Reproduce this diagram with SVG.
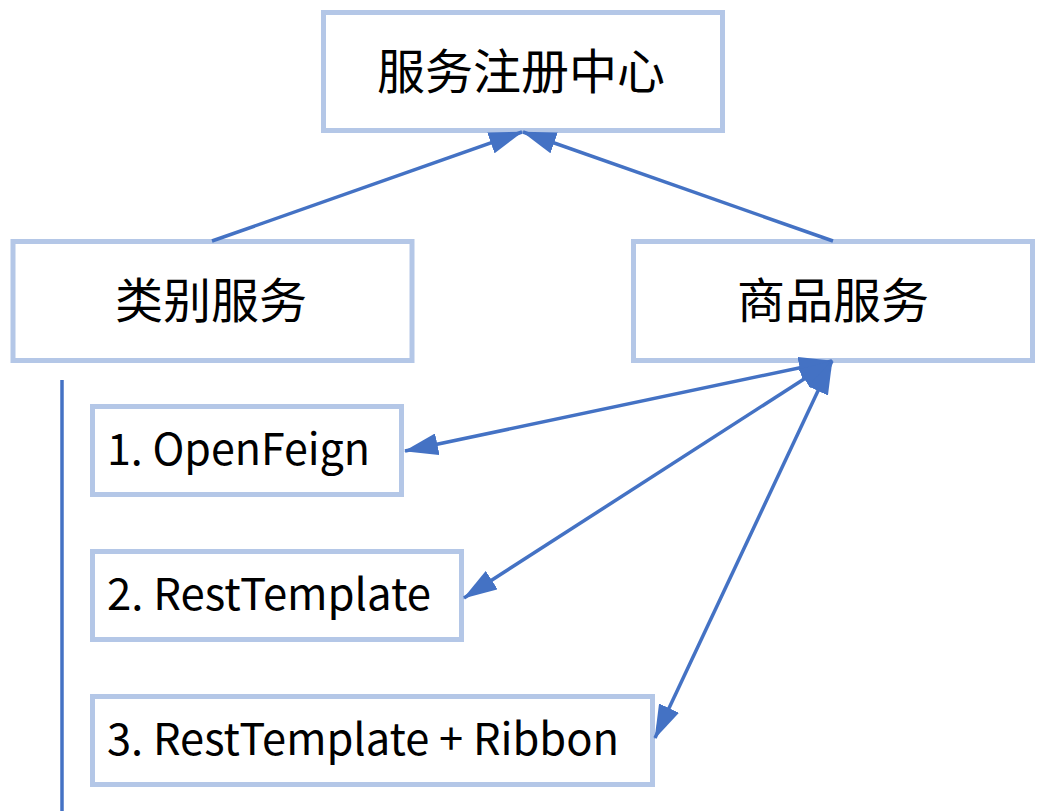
<svg xmlns="http://www.w3.org/2000/svg" width="1042" height="811" viewBox="0 0 1042 811">
  <style>
    .box { fill: #FFFFFF; stroke: #B4C7E7; stroke-width: 5; }
    .lbl { font-family: "Noto Sans CJK SC", "Liberation Sans", sans-serif; font-size: 48px; fill: #000000; }
    .lat { font-size: 44px; }
    .mid { text-anchor: middle; }
    .conn { stroke: #4472C4; stroke-width: 3.5; fill: none; }
  </style>
  <defs>
    <marker id="ah" markerUnits="userSpaceOnUse" markerWidth="34" markerHeight="22" refX="33" refY="11" orient="auto-start-reverse" viewBox="0 0 34 22">
      <path d="M0,0 L34,11 L0,22 z" fill="#4472C4"/>
    </marker>
  </defs>
  <rect width="1042" height="811" fill="#FFFFFF"/>

  <g id="registry">
    <rect class="box" x="323.5" y="12.5" width="399" height="118"/>
    <text class="lbl mid" x="521" y="89">服务注册中心</text>
  </g>
  <g id="category-service">
    <rect class="box" x="13" y="241.5" width="399" height="119"/>
    <text class="lbl mid" x="211" y="318">类别服务</text>
  </g>
  <g id="product-service">
    <rect class="box" x="633.5" y="241.5" width="399" height="119"/>
    <text class="lbl mid" x="833" y="318">商品服务</text>
  </g>
  <g id="openfeign">
    <rect class="box" x="92.5" y="406.5" width="309" height="88"/>
    <text class="lbl lat" x="107" y="465" textLength="263" lengthAdjust="spacingAndGlyphs">1. OpenFeign</text>
  </g>
  <g id="resttemplate">
    <rect class="box" x="92.5" y="551.5" width="369" height="88"/>
    <text class="lbl lat" x="107" y="610" textLength="324" lengthAdjust="spacingAndGlyphs">2. RestTemplate</text>
  </g>
  <g id="resttemplate-ribbon">
    <rect class="box" x="92.5" y="696.5" width="560" height="88"/>
    <text class="lbl lat" x="107" y="755" textLength="512" lengthAdjust="spacingAndGlyphs">3. RestTemplate + Ribbon</text>
  </g>

  <g id="connectors">
    <line class="conn" x1="212" y1="241" x2="522" y2="132" marker-end="url(#ah)"/>
    <line class="conn" x1="833" y1="241" x2="523" y2="132" marker-end="url(#ah)"/>
    <line class="conn" x1="832" y1="361" x2="405" y2="451" marker-start="url(#ah)" marker-end="url(#ah)"/>
    <line class="conn" x1="832" y1="361" x2="464" y2="598" marker-start="url(#ah)" marker-end="url(#ah)"/>
    <line class="conn" x1="832" y1="361" x2="655" y2="738" marker-start="url(#ah)" marker-end="url(#ah)"/>
    <line class="conn" x1="62" y1="380" x2="62" y2="811"/>
  </g>
</svg>
